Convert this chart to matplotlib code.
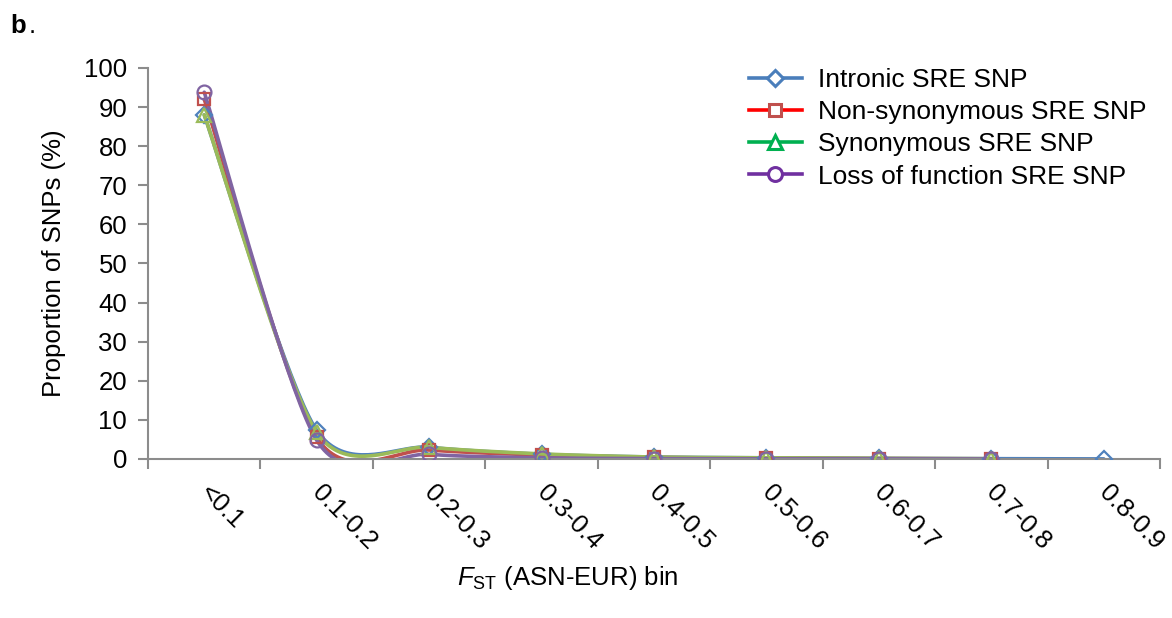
import numpy as np
import matplotlib.pyplot as plt
from matplotlib.lines import Line2D

plt.rcParams['font.family'] = ['Liberation Sans', 'DejaVu Sans']
plt.rcParams['mathtext.fontset'] = 'custom'
plt.rcParams['mathtext.rm'] = 'Liberation Sans'
plt.rcParams['mathtext.it'] = 'Liberation Sans:italic'

bins = ['<0.1', '0.1-0.2', '0.2-0.3', '0.3-0.4', '0.4-0.5',
        '0.5-0.6', '0.6-0.7', '0.7-0.8', '0.8-0.9']

intronic = [88.0, 7.3, 3.0, 1.2, 0.5, 0.3, 0.15, 0.08, 0.02]
nonsyn = [92.0, 5.5, 2.3, 1.0, 0.4, 0.2, 0.1, 0.05]
syn = [88.0, 6.8, 3.0, 1.3, 0.5, 0.3, 0.15, 0.08]
lof = [93.8, 4.8, 1.2, 0.3, 0.1, 0.05, 0.02, 0.01]

FS = 18.5


def smooth(y, n=40, k=0.135):
    # cardinal-spline Bezier smoothing through the points
    y = np.asarray(y, dtype=float)
    x = np.arange(len(y), dtype=float)
    pts = np.column_stack([x, y])
    out = []
    t = np.linspace(0, 1, n)[:, None]
    for i in range(len(pts) - 1):
        i0 = max(i - 1, 0)
        i3 = min(i + 2, len(pts) - 1)
        p1, p2 = pts[i], pts[i + 1]
        c1 = p1 + (pts[i + 1] - pts[i0]) * k
        c2 = p2 - (pts[i3] - pts[i]) * k
        seg = ((1 - t) ** 3 * p1 + 3 * (1 - t) ** 2 * t * c1
               + 3 * (1 - t) * t ** 2 * c2 + t ** 3 * p2)
        out.append(seg)
    seg = np.vstack(out)
    return seg[:, 0], seg[:, 1]


series = [
    ('Intronic SRE SNP', intronic, '#4F81BD', '#4A7EBB', 'D', 8),
    ('Non-synonymous SRE SNP', nonsyn, '#C0504D', '#FF0000', 's', 9),
    ('Synonymous SRE SNP', syn, '#9BBB59', '#00B050', '^', 10),
    ('Loss of function SRE SNP', lof, '#8064A2', '#7030A0', 'o', 10),
]

fig = plt.figure(figsize=(11.72, 6.18), dpi=100)
ax = fig.add_axes([0.1263, 0.2573, 0.8635, 0.6327])

handles = []
for name, vals, col, leg_col, mk, ms in series:
    sx, sy = smooth(vals)
    ax.plot(sx, sy, color=col, lw=2.6, solid_capstyle='round', zorder=2)
    ax.plot(np.arange(len(vals)), vals, ls='none', marker=mk, ms=ms,
            mfc='none', mec=col, mew=1.6, zorder=3)
    handles.append(Line2D([], [], color=leg_col, lw=2.6, marker=mk, ms=ms,
                          mfc='white', mec=col if mk == 's' else leg_col,
                          mew=2.2, label=name))

ax.set_xlim(-0.5, len(bins) - 0.5)
ax.set_ylim(0, 100)
ax.set_yticks(np.arange(0, 101, 10))
ax.set_xticks(np.arange(len(bins) + 1) - 0.5)
ax.set_xticklabels([])
for i, lab in enumerate(bins):
    ax.annotate(lab, xy=(i, 0), xycoords=('data', 'axes fraction'),
                xytext=(-1, -30), textcoords='offset pixels',
                rotation=-45, rotation_mode='anchor', ha='left', va='center',
                fontsize=FS)

for s in ['top', 'right']:
    ax.spines[s].set_visible(False)
for s in ['left', 'bottom']:
    ax.spines[s].set_color('#8C8C8C')
    ax.spines[s].set_linewidth(1.5)
ax.tick_params(axis='both', colors='#8C8C8C', width=1.5, length=7,
               labelcolor='black', labelsize=FS)
ax.tick_params(axis='y', pad=8)

ax.set_ylabel('Proportion of SNPs (%)', fontsize=FS, labelpad=13)
fig.text(0.484, 0.064, r'$F_{\mathrm{ST}}$ (ASN-EUR) bin', fontsize=FS,
         ha='center', va='center')
fig.text(0.009, 0.958, 'b', fontsize=FS, fontweight='bold', ha='left', va='center')
fig.text(0.0245, 0.958, '.', fontsize=FS, ha='left', va='center')

ax.legend(handles=handles, loc='upper left', bbox_to_anchor=(0.5835, 1.027),
          frameon=False, fontsize=19, handlelength=2.0, handletextpad=0.6,
          labelspacing=0.31, borderaxespad=0)

fig.savefig('out.png', dpi=100)
